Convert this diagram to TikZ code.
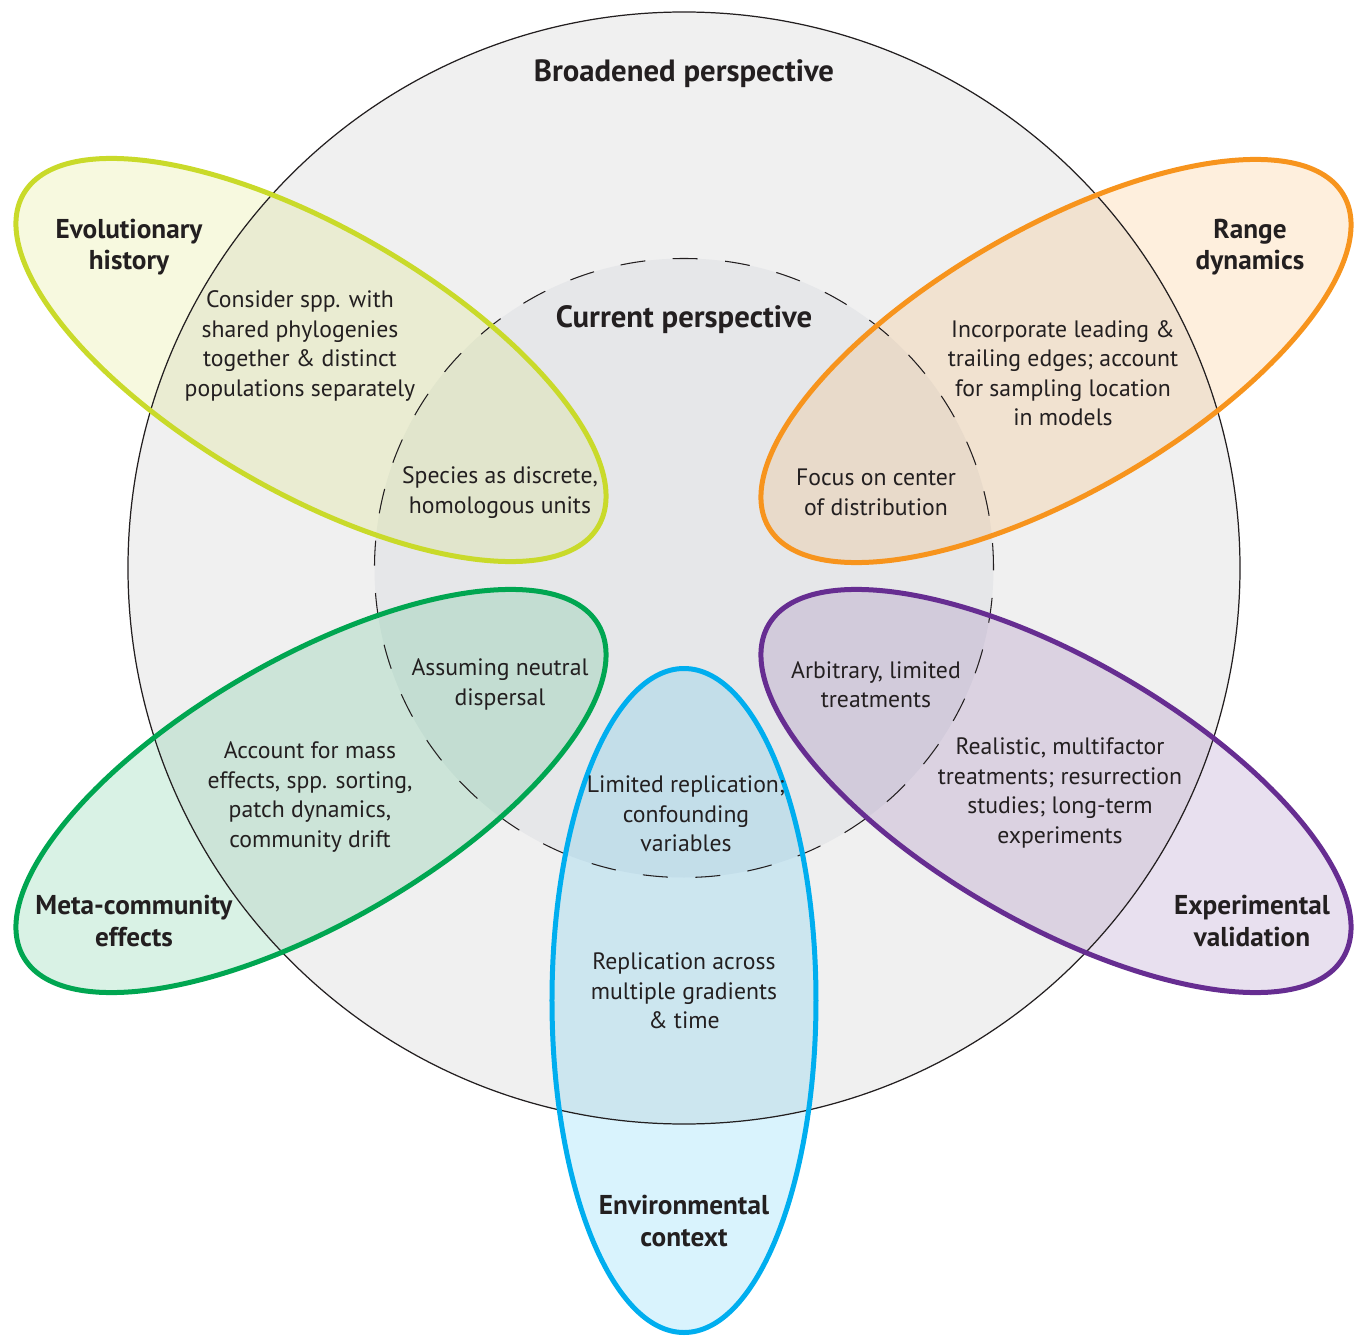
\documentclass[tikz,border=0pt]{standalone}
\usepackage{fontspec}
\setmainfont{PT Sans}
\usepackage{tikz}
\definecolor{rimGray}{HTML}{F0F0F0}
\definecolor{coreGray}{HTML}{E6E7E9}
\definecolor{inkDark}{HTML}{231F20}
\definecolor{petLime}{HTML}{C9DA2A}
\definecolor{petOrange}{HTML}{F7941D}
\definecolor{petGreen}{HTML}{00A651}
\definecolor{petPurple}{HTML}{662D91}
\definecolor{petCyan}{HTML}{00AEEF}

\begin{document}
\begin{tikzpicture}[
  petal/.style={line width=1mm},
  tint/.style={fill opacity=0.15},
  title/.style={font=\fontsize{17.5}{21}\selectfont\bfseries,text=inkDark,
                align=center,inner sep=0pt},
  head/.style={font=\fontsize{15.5}{18}\selectfont\bfseries,text=inkDark,
               align=center,inner sep=0pt},
  note/.style={font=\fontsize{13.5}{16.8}\selectfont,text=inkDark,
               align=center,inner sep=0pt}]
  \useasboundingbox (-13.68,-15.34) rectangle (13.54,11.36);
  % grey discs: broadened and current views
  \fill[rimGray]  (0,0) circle (11.12);
  \fill[coreGray] (0,0) circle (6.19);
  % petal fills, see-through
  \fill[petLime,tint,rotate around={-30:(-7.46,4.16)}]    (-7.46,4.16)  ellipse (6.64 and 2.64);
  \fill[petOrange,tint,rotate around={30:(7.44,4.14)}]    (7.44,4.14)   ellipse (6.64 and 2.64);
  \fill[petGreen,tint,rotate around={30:(-7.46,-4.46)}]   (-7.46,-4.46) ellipse (6.64 and 2.64);
  \fill[petPurple,tint,rotate around={-30:(7.44,-4.46)}]  (7.44,-4.46)  ellipse (6.64 and 2.64);
  \fill[petCyan,tint] (0,-8.65) ellipse (2.64 and 6.64);
  % circle outlines
  \draw[inkDark,line width=0.7pt] (0,0) circle (11.12);
  \draw[inkDark,line width=0.6pt,dash pattern=on 0.5cm off 0.55cm] (0,0) circle (6.19);
  % petal outlines
  \draw[petLime,petal,rotate around={-30:(-7.46,4.16)}]   (-7.46,4.16)  ellipse (6.64 and 2.64);
  \draw[petOrange,petal,rotate around={30:(7.44,4.14)}]   (7.44,4.14)   ellipse (6.64 and 2.64);
  \draw[petGreen,petal,rotate around={30:(-7.46,-4.46)}]  (-7.46,-4.46) ellipse (6.64 and 2.64);
  \draw[petPurple,petal,rotate around={-30:(7.44,-4.46)}] (7.44,-4.46)  ellipse (6.64 and 2.64);
  \draw[petCyan,petal] (0,-8.65) ellipse (2.64 and 6.64);

  \node[title] (broad) at (0,9.88) {Broadened perspective};
  \node[title] (curr)  at (0,4.96) {Current perspective};
  \node[head] (evo)   at (-11.1,6.42)  {Evolutionary\\history};
  \node[head] (range) at (11.32,6.42)  {Range\\dynamics};
  \node[head] (meta)  at (-11.0,-7.06) {Meta-community\\effects};
  \node[head] (expt)  at (11.36,-7.06) {Experimental\\validation};
  \node[head] (env)   at (0,-13.06)    {Environmental\\context};

  \node[note] (evoB)   at (-7.68,4.44)  {Consider spp. with\\shared phylogenies\\together \& distinct\\populations separately};
  \node[note] (evoC)   at (-3.68,1.51)  {Species as discrete,\\homologous units};
  \node[note] (rangeB) at (7.58,3.9)    {Incorporate leading \&\\trailing edges; account\\for sampling location\\in models};
  \node[note] (rangeC) at (3.84,1.51)   {Focus on center\\of distribution};
  \node[note] (metaC)  at (-3.68,-2.33) {Assuming neutral\\dispersal};
  \node[note] (metaB)  at (-7.48,-4.58) {Account for mass\\effects, spp. sorting,\\patch dynamics,\\community drift};
  \node[note] (exptC)  at (3.84,-2.33)  {Arbitrary, limited\\treatments};
  \node[note] (exptB)  at (7.52,-4.5)   {Realistic, multifactor\\treatments; resurrection\\studies; long-term\\experiments};
  \node[note] (envC)   at (0.04,-4.92)  {Limited replication;\\confounding\\variables};
  \node[note] (envB)   at (0,-8.46)     {Replication across\\multiple gradients\\\& time};
\end{tikzpicture}
\end{document}
